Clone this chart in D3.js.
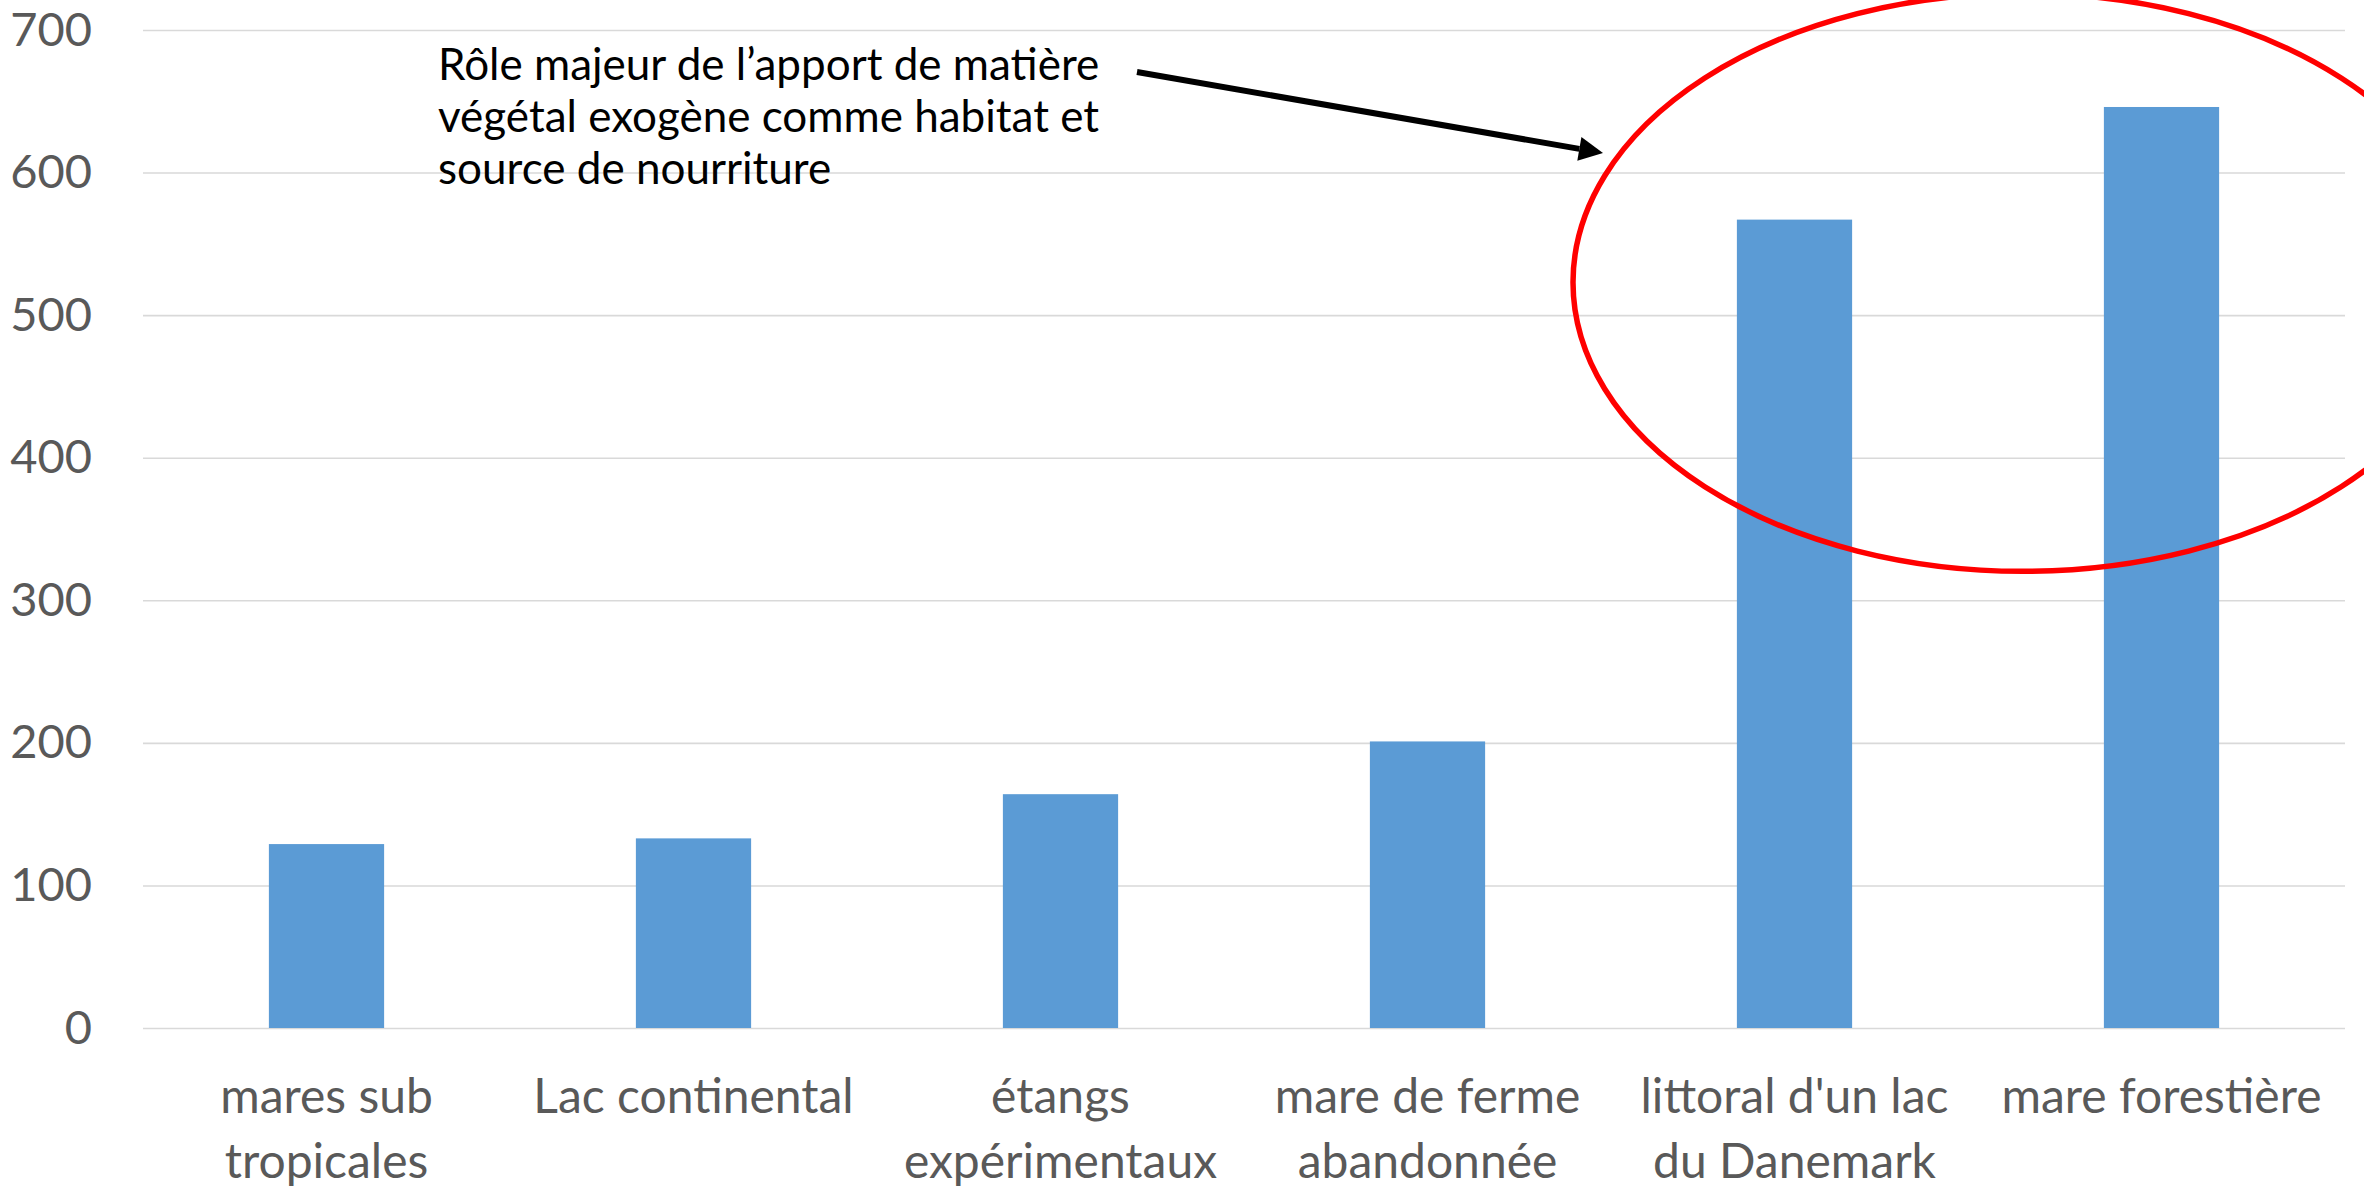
<!DOCTYPE html>
<html>
<head>
<meta charset="utf-8">
<script src="https://cdn.jsdelivr.net/npm/d3@7"></script>
<style>
    body { margin: 0; background: #fff; }
    svg { display: block; font-family: Lato, 'Open Sans', sans-serif; }
</style>
</head>
<body>
<div class="chart"></div>
<script>
// chart data
const categories = [
    'mares sub\ntropicales',
    'Lac continental',
    'étangs\nexpérimentaux',
    'mare de ferme\nabandonnée',
    "littoral d'un lac\ndu Danemark",
    'mare forestière'
];
const values = [129, 133, 164, 201, 567, 646];
const yTicks = [0, 100, 200, 300, 400, 500, 600, 700];
const noteLines = [
    'Rôle majeur de l’apport de matière',
    'végétal exogène comme habitat et',
    'source de nourriture'
];

const width = 2364;
const height = 1187;
const margin = { top: 30, right: 19, bottom: 159, left: 143 };

const svg = d3.select('.chart')
    .append('svg')
    .attr('width', width)
    .attr('height', height);

const x = d3.scaleBand()
    .domain(categories)
    .range([margin.left, width - margin.right])
    .paddingInner(0.686)
    .paddingOuter(0.343);

const y = d3.scaleLinear()
    .domain([0, 700])
    .range([height - margin.bottom, margin.top]);

/**
 * horizontal gridlines + y tick labels
 */
function drawYAxis(){
    const axis = d3.axisLeft(y)
        .tickValues(yTicks)
        .tickSize(-(width - margin.left - margin.right))
        .tickPadding(51);

    const g = svg.append('g')
        .attr('transform', `translate(${margin.left},0)`)
        .call(axis)
        .attr('font-family', null)
        .attr('font-size', null);

    g.select('.domain').remove();
    g.selectAll('.tick line')
        .attr('stroke', '#d9d9d9')
        .attr('stroke-width', 1.6);
    g.selectAll('.tick text')
        .attr('fill', '#595959')
        .style('font-size', '47px');
}

/**
 * category labels, split on line breaks
 */
function drawXAxis(){
    const axis = d3.axisBottom(x).tickSize(0).tickFormat('');
    const g = svg.append('g')
        .attr('transform', `translate(0,${y(0)})`)
        .call(axis)
        .attr('font-family', null)
        .attr('font-size', null);
    g.select('.domain').remove();
    g.selectAll('.tick text').remove();

    g.selectAll('.tick').each(function(d){
        const t = d3.select(this).append('text')
            .attr('fill', '#595959')
            .attr('text-anchor', 'middle')
            .style('font-size', '48px');
        d.split('\n').forEach((line, i) => {
            t.append('tspan')
                .attr('x', 0)
                .attr('y', 85 + i * 65)
                .text(line);
        });
    });
}

function drawBars(){
    svg.append('g')
        .selectAll('rect')
        .data(values)
        .join('rect')
        .attr('x', (d, i) => x(categories[i]))
        .attr('width', x.bandwidth())
        .attr('y', d => y(d))
        .attr('height', d => y(0) - y(d))
        .attr('fill', '#5b9bd5');
}

/**
 * the text note, the arrow and the red ring round the two big bars
 */
function drawNote(){
    svg.append('text')
        .attr('x', 438)
        .attr('y', 80)
        .style('font-size', '44px')
        .attr('fill', '#000')
        .selectAll('tspan')
        .data(noteLines)
        .join('tspan')
        .attr('x', 438)
        .attr('dy', (d, i) => i === 0 ? 0 : 52)
        .text(d => d);

    // arrow
    const x1 = 1137, y1 = 72, x2 = 1603, y2 = 153;
    const ang = Math.atan2(y2 - y1, x2 - x1);
    const headLen = 24, headW = 12;
    const bx = x2 - headLen * Math.cos(ang);
    const by = y2 - headLen * Math.sin(ang);
    svg.append('line')
        .attr('x1', x1).attr('y1', y1)
        .attr('x2', bx).attr('y2', by)
        .attr('stroke', '#000')
        .attr('stroke-width', 6);
    svg.append('polygon')
        .attr('points', [
            [x2, y2],
            [bx + headW * Math.sin(ang), by - headW * Math.cos(ang)],
            [bx - headW * Math.sin(ang), by + headW * Math.cos(ang)]
        ].map(p => p.join(',')).join(' '))
        .attr('fill', '#000');

    // ring around the last two categories
    const c5 = x(categories[4]) + x.bandwidth() / 2;
    const c6 = x(categories[5]) + x.bandwidth() / 2;
    svg.append('ellipse')
        .attr('cx', (c5 + c6) / 2 + 45)
        .attr('cy', y(523))
        .attr('rx', 450)
        .attr('ry', 289)
        .attr('fill', 'none')
        .attr('stroke', '#ff0000')
        .attr('stroke-width', 5.5);
}

drawYAxis();
drawXAxis();
drawBars();
drawNote();
</script>
</body>
</html>
